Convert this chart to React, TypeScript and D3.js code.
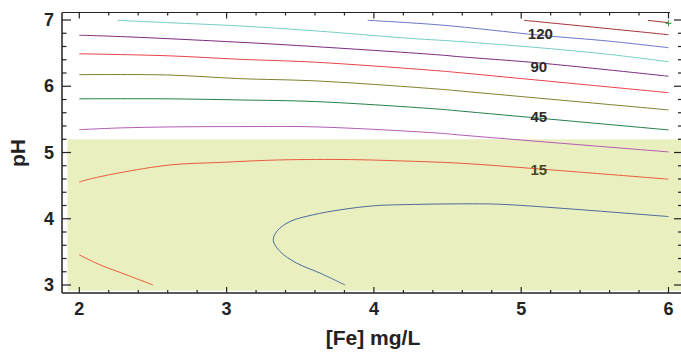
import React from "react";
import * as d3 from "d3";

// ---- data (x = [Fe] mg/L, y = pH) ----
const xTickMajors = [2, 3, 4, 5, 6];
const yTickMajors = [3, 4, 5, 6, 7];
const xDomain = [2, 6];
const yDomain = [3, 7];
const shadeX = [1.92, 6.1];
const shadePH = [2.915, 5.2];

const c150 = [[5.86, 6.995], [6.0, 6.96]];
const c135 = [[5.02, 6.995], [5.5, 6.89], [6.0, 6.778]];
const c120 = [[3.958, 6.995], [4.45, 6.925], [5.13, 6.77], [5.6, 6.68], [6.0, 6.582]];
const c105 = [[2.26, 6.995], [2.6, 6.96], [3.09, 6.91], [3.61, 6.835], [4.2, 6.73], [4.58, 6.675], [5.13, 6.58], [5.6, 6.48], [6.0, 6.37]];
const c90 = [[2.0, 6.77], [2.28, 6.75], [3.09, 6.664], [3.61, 6.597], [4.45, 6.472], [4.58, 6.446], [5.13, 6.35], [6.0, 6.151]];
const c75 = [[2.0, 6.49], [2.6, 6.46], [3.09, 6.407], [3.61, 6.362], [4.45, 6.231], [4.58, 6.205], [6.0, 5.903]];
const c60 = [[2.0, 6.175], [2.6, 6.17], [3.09, 6.115], [3.61, 6.08], [4.45, 5.955], [4.58, 5.929], [6.0, 5.643]];
const c45 = [[2.0, 5.81], [2.6, 5.81], [3.09, 5.793], [3.61, 5.768], [4.45, 5.653], [4.58, 5.627], [6.0, 5.341]];
const c30 = [[2.0, 5.345], [2.28, 5.371], [2.62, 5.386], [3.09, 5.391], [3.61, 5.386], [4.45, 5.291], [4.58, 5.265], [6.0, 5.009]];
const c15 = [[2.0, 4.552], [2.05, 4.587], [2.26, 4.688], [2.62, 4.813], [2.955, 4.85], [3.36, 4.888], [3.84, 4.893], [4.18, 4.873], [4.58, 4.839], [5.13, 4.75], [6.0, 4.597]];
const c15b = [[2.0, 3.455], [2.14, 3.305], [2.32, 3.154], [2.5, 3.0]];
const c0 = [[3.804, 3.0], [3.634, 3.18], [3.476, 3.33], [3.363, 3.505], [3.317, 3.671], [3.34, 3.807], [3.43, 3.958], [3.589, 4.06], [3.77, 4.134], [3.996, 4.195], [4.223, 4.214], [4.72, 4.225], [4.9, 4.214], [5.354, 4.145], [6.0, 4.033]];

const contours = [
  { pts: c150, color: "#a33336" },
  { pts: c135, color: "#a33336" },
  { pts: c120, color: "#6b78c4" },
  { pts: c105, color: "#78cfc5" },
  { pts: c90, color: "#7d2a80" },
  { pts: c75, color: "#e8414a" },
  { pts: c60, color: "#808030" },
  { pts: c45, color: "#258045" },
  { pts: c30, color: "#b45bb4" },
  { pts: c15, color: "#ea5a3c" },
  { pts: c15b, color: "#ea5a3c" },
  { pts: c0, color: "#4f6a9c" },
];

const labelTexts = ["120", "90", "45", "15"];
const labelX = [5.13, 5.12, 5.12, 5.12];
const labelPH = [6.8, 6.3, 5.54, 4.74];
const labelColors = ["#2b2b2b", "#2b2b2b", "#2b2b2b", "#4a4622"];

const markerPt = [6.0, 6.95];

export default function App() {
  const W = 681, H = 352;
  const x = d3.scaleLinear().domain(xDomain).range([79.3, 668.5]);
  const y = d3.scaleLinear().domain(yDomain).range([285, 20]);
  const line = d3
    .line<number[]>()
    .x((d) => x(d[0]))
    .y((d) => y(d[1]))
    .curve(d3.curveCatmullRom.alpha(0.5));

  const left = 62, top = 12.5, bottom = 293, right = 681;
  const xTicks = d3.range(0, 21).map((i) => 2 + i * 0.2);
  const yTicks = d3.range(0, 21).map((i) => 3 + i * 0.2);
  const isMajor = (v: number) => Math.abs(v - Math.round(v)) < 1e-6;
  const axisColor = "#222";
  const font = "'Liberation Sans', Arial, Helvetica, sans-serif";

  return (
    <svg
      width={W}
      height={H}
      style={{ position: "absolute", left: 0, top: 0, display: "block" }}
      fontFamily={font}
    >
      <rect x={0} y={0} width={W} height={H} fill="#fff" />
      <rect
        x={x(shadeX[0])}
        y={y(shadePH[1])}
        width={x(shadeX[1]) - x(shadeX[0])}
        height={y(shadePH[0]) - y(shadePH[1])}
        fill="#eaefc0"
      />
      {contours.map((c, i) => (
        <path key={i} d={line(c.pts) || ""} fill="none" stroke={c.color} strokeWidth={1} />
      ))}
      <path
        d={`M${x(markerPt[0]) - 3},${y(markerPt[1])}h6M${x(markerPt[0])},${y(markerPt[1]) - 3}v6`}
        stroke="#2a9a3a"
        strokeWidth={1}
      />
      {labelTexts.map((t, i) => (
        <text
          key={t}
          x={x(labelX[i])}
          y={y(labelPH[i])}
          textAnchor="middle"
          dominantBaseline="central"
          fontWeight="bold"
          fontSize={15}
          fill={labelColors[i]}
        >
          {t}
        </text>
      ))}
      {/* frame */}
      <line x1={left} y1={top} x2={left} y2={bottom} stroke={axisColor} strokeWidth={1.5} />
      <line x1={left} y1={top} x2={670} y2={top} stroke={axisColor} strokeWidth={1.2} />
      <line x1={left} y1={bottom} x2={right} y2={bottom} stroke={axisColor} strokeWidth={1.5} />
      {xTicks.map((v, i) => (
        <g key={"xt" + i}>
          <line x1={x(v)} x2={x(v)} y1={bottom} y2={bottom - (isMajor(v) ? 6 : 3)} stroke={axisColor} strokeWidth={1.2} />
          <line x1={x(v)} x2={x(v)} y1={top} y2={top + (isMajor(v) ? 6 : 3)} stroke={axisColor} strokeWidth={1.2} />
        </g>
      ))}
      {yTicks.map((v, i) => (
        <g key={"yt" + i}>
          <line x1={left} x2={left + (isMajor(v) ? 9 : 4.5)} y1={y(v)} y2={y(v)} stroke={axisColor} strokeWidth={1.2} />
          <line x1={right} x2={right - (isMajor(v) ? 7 : 3)} y1={y(v)} y2={y(v)} stroke={axisColor} strokeWidth={1.2} />
        </g>
      ))}
      {xTickMajors.map((v) => (
        <text key={"xl" + v} x={x(v)} y={315} textAnchor="middle" fontWeight="bold" fontSize={18} fill="#222">
          {v}
        </text>
      ))}
      {yTickMajors.map((v) => (
        <text key={"yl" + v} x={54} y={y(v)} textAnchor="end" dominantBaseline="central" fontWeight="bold" fontSize={18} fill="#222">
          {v}
        </text>
      ))}
      <text x={373} y={345} textAnchor="middle" fontWeight="bold" fontSize={21} fill="#222">
        [Fe] mg/L
      </text>
      <text
        transform={`translate(25,153) rotate(-90)`}
        textAnchor="middle"
        fontWeight="bold"
        fontSize={21}
        fill="#222"
      >
        pH
      </text>
    </svg>
  );
}
